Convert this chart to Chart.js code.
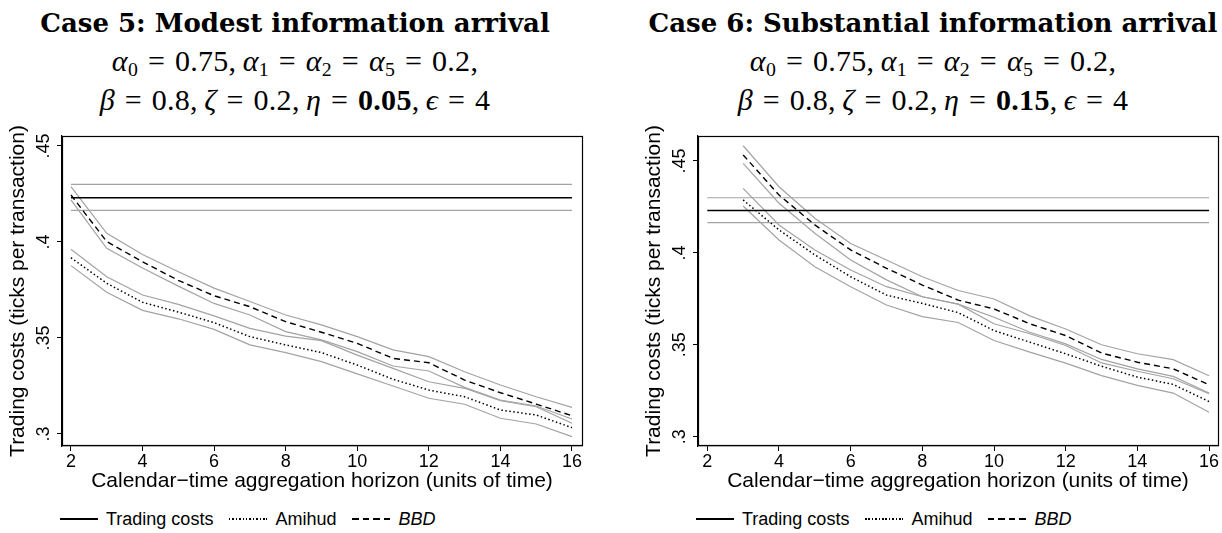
<!DOCTYPE html>
<html lang="en">
<head>
<meta charset="utf-8">
<title>Casos 5 y 6</title>
<script src="https://cdn.jsdelivr.net/npm/chart.js@4.4.1/dist/chart.umd.min.js"></script>
<style>
  html, body { margin: 0; padding: 0; background: #fff; }
  body { position: relative; width: 1222px; height: 533px; overflow: hidden; font-family: "Liberation Sans", Arial, sans-serif; color: #000; }
  .cabecera { position: absolute; top: 0; width: 640px; height: 130px; }
  .cabecera div { position: absolute; left: 0; width: 100%; text-align: center; white-space: nowrap; line-height: 1; }
  .titulo { top: 10px; font-family: "DejaVu Serif", serif; font-weight: bold; font-size: 26px; }
  .formula { font-family: "Liberation Serif", serif; font-size: 30px; word-spacing: 2px; letter-spacing: 0.3px; }
  .f1 { top: 46px; }
  .f2 { top: 85px; }
  .formula sub { font-size: 0.66em; vertical-align: -0.25em; line-height: 0; }
  canvas { position: absolute; }
  .leyenda { position: absolute; top: 508px; display: flex; align-items: center; font-size: 18px; line-height: 22px; white-space: nowrap; }
  .leyenda span.m { display: inline-block; width: 38px; height: 1.5px; margin-right: 8px; }
  .leyenda span.t { margin-right: 16px; }
  .solida { background: #000; }
  .punteada { background: repeating-linear-gradient(90deg, #000 0 1.5px, transparent 1.5px 3.4px); }
  .discontinua { background: repeating-linear-gradient(90deg, #000 0 6.5px, transparent 6.5px 10.5px); }
</style>
</head>
<body>

<div class="cabecera" style="left:-25px">
  <div class="titulo">Case 5: Modest information arrival</div>
  <div class="formula f1"><i>α</i><sub>0</sub> = 0.75,&thinsp;<i>α</i><sub>1</sub> = <i>α</i><sub>2</sub> = <i>α</i><sub>5</sub> = 0.2,</div>
  <div class="formula f2"><i>β</i> = 0.8,&thinsp;<i>ζ</i> = 0.2,&thinsp;<i>η</i> = <b>0.05</b>,&thinsp;<i>ϵ</i> = 4</div>
</div>
<div class="cabecera" style="left:613px">
  <div class="titulo">Case 6: Substantial information arrival</div>
  <div class="formula f1"><i>α</i><sub>0</sub> = 0.75,&thinsp;<i>α</i><sub>1</sub> = <i>α</i><sub>2</sub> = <i>α</i><sub>5</sub> = 0.2,</div>
  <div class="formula f2"><i>β</i> = 0.8,&thinsp;<i>ζ</i> = 0.2,&thinsp;<i>η</i> = <b>0.15</b>,&thinsp;<i>ϵ</i> = 4</div>
</div>

<canvas id="caso5" width="600" height="400" style="left:0;top:100px"></canvas>
<canvas id="caso6" width="586" height="400" style="left:636px;top:100px"></canvas>

<div class="leyenda" style="left:60px">
  <span class="m solida"></span><span class="t">Trading costs</span>
  <span class="m punteada"></span><span class="t">Amihud</span>
  <span class="m discontinua"></span><span class="t" style="font-style:italic">BBD</span>
</div>
<div class="leyenda" style="left:696px">
  <span class="m solida"></span><span class="t">Trading costs</span>
  <span class="m punteada"></span><span class="t">Amihud</span>
  <span class="m discontinua"></span><span class="t" style="font-style:italic">BBD</span>
</div>

<script>
// horizonte de agregacion (unidades de tiempo)
const horizonte = [2, 3, 4, 5, 6, 7, 8, 9, 10, 11, 12, 13, 14, 15, 16];

// costes de negociacion verdaderos (constantes) y su banda
const costeMedio = 0.4231;
const costeSup = 0.4300;
const costeInf = 0.4165;

// Caso 5: llegada modesta de informacion
const bbd5    = [0.4245, 0.4002, 0.3897, 0.3800, 0.3720, 0.3663, 0.3585, 0.3530, 0.3472, 0.3394, 0.3371, 0.3281, 0.3215, 0.3156, 0.3095];
const bbd5Sup = [0.4288, 0.4045, 0.3935, 0.3845, 0.3760, 0.3690, 0.3620, 0.3568, 0.3507, 0.3438, 0.3403, 0.3324, 0.3255, 0.3194, 0.3139];
const bbd5Inf = [0.4219, 0.3967, 0.3865, 0.3770, 0.3680, 0.3620, 0.3533, 0.3490, 0.3429, 0.3354, 0.3328, 0.3243, 0.3177, 0.3146, 0.3078];
const amihud5    = [0.3918, 0.3785, 0.3686, 0.3635, 0.3580, 0.3507, 0.3464, 0.3424, 0.3359, 0.3285, 0.3229, 0.3194, 0.3125, 0.3099, 0.3033];
const amihud5Sup = [0.3962, 0.3819, 0.3724, 0.3675, 0.3615, 0.3550, 0.3510, 0.3486, 0.3411, 0.3342, 0.3272, 0.3238, 0.3173, 0.3142, 0.3056];
const amihud5Inf = [0.3877, 0.3738, 0.3644, 0.3600, 0.3545, 0.3464, 0.3424, 0.3377, 0.3313, 0.3250, 0.3186, 0.3155, 0.3082, 0.3052, 0.2986];

// Caso 6: llegada sustancial de informacion (sin dato en h = 2)
const bbd6    = [null, 0.4533, 0.4315, 0.4152, 0.4016, 0.3916, 0.3825, 0.3743, 0.3695, 0.3614, 0.3550, 0.3455, 0.3405, 0.3369, 0.3282];
const bbd6Sup = [null, 0.4583, 0.4360, 0.4188, 0.4051, 0.3961, 0.3870, 0.3795, 0.3749, 0.3657, 0.3586, 0.3500, 0.3451, 0.3419, 0.3331];
const bbd6Inf = [null, 0.4487, 0.4270, 0.4107, 0.3961, 0.3853, 0.3761, 0.3721, 0.3650, 0.3568, 0.3505, 0.3420, 0.3369, 0.3328, 0.3237];
const amihud6    = [null, 0.4288, 0.4125, 0.3989, 0.3870, 0.3770, 0.3725, 0.3675, 0.3577, 0.3514, 0.3451, 0.3383, 0.3324, 0.3284, 0.3191];
const amihud6Sup = [null, 0.4351, 0.4152, 0.4016, 0.3907, 0.3816, 0.3761, 0.3721, 0.3614, 0.3560, 0.3496, 0.3401, 0.3356, 0.3315, 0.3233];
const amihud6Inf = [null, 0.4255, 0.4070, 0.3925, 0.3816, 0.3716, 0.3653, 0.3621, 0.3523, 0.3460, 0.3400, 0.3332, 0.3279, 0.3237, 0.3133];

// marcas de los ejes
const ticksX = [2, 4, 6, 8, 10, 12, 14, 16];
const ticksY = [0.3, 0.35, 0.4, 0.45];
const etiquetasY = ['.3', '.35', '.4', '.45'];

const GRIS = '#a3a3a3';
const fuente = 'Liberation Sans';

function serie(valores, color, ancho, guiones) {
    return {
        data: horizonte.map((h, i) => ({ x: h, y: valores[i] })),
        borderColor: color, borderWidth: ancho, borderDash: guiones || [],
        pointRadius: 0, tension: 0, fill: false
    };
}

function horizontal(valor, color, ancho) {
    return {
        data: [{ x: horizonte[0], y: valor }, { x: horizonte[horizonte.length - 1], y: valor }],
        borderColor: color, borderWidth: ancho, pointRadius: 0, fill: false
    };
}

// marco completo alrededor del area del grafico (estilo Stata)
const marco = {
    id: 'marco',
    afterDraw(chart) {
        const { ctx, chartArea: a } = chart;
        ctx.save();
        ctx.strokeStyle = '#000';
        ctx.lineWidth = 1.2;
        ctx.strokeRect(Math.round(a.left) + 0.5, Math.round(a.top) + 0.5, Math.round(a.right - a.left), Math.round(a.bottom - a.top) - 1);
        ctx.restore();
    }
};

function crearGrafico(id, series, rangoX, rangoY) {
    const datasets = [
        horizontal(costeMedio, '#000', 1.5),
        serie(series.bbd, '#000', 1.4, [6, 4]),
        serie(series.amihud, '#000', 1.5, [1.5, 2.5]),
        horizontal(costeSup, GRIS, 1.2),
        horizontal(costeInf, GRIS, 1.2),
        serie(series.bbdSup, GRIS, 1.2),
        serie(series.bbdInf, GRIS, 1.2),
        serie(series.amihudSup, GRIS, 1.2),
        serie(series.amihudInf, GRIS, 1.2)
    ];
    return new Chart(document.getElementById(id), {
        type: 'line',
        data: { datasets },
        options: {
            responsive: false,
            animation: false,
            events: [],
            layout: { padding: { top: 36, right: rangoX.derecha, bottom: 0, left: 0 } },
            plugins: { legend: { display: false }, tooltip: { enabled: false } },
            scales: {
                x: {
                    type: 'linear', min: rangoX.min, max: rangoX.max,
                    afterBuildTicks: s => { s.ticks = ticksX.map(v => ({ value: v })); },
                    afterFit: s => { s.height = 54; },
                    ticks: { autoSkip: false, maxRotation: 0, padding: 0, color: '#000', font: { family: fuente, size: 18 } },
                    grid: { drawOnChartArea: false, drawTicks: true, tickLength: 5, tickColor: '#000' },
                    border: { display: true, color: '#000', width: 1.2 },
                    title: { display: true, text: 'Calendar−time aggregation horizon (units of time)', color: '#000',
                             font: { family: fuente, size: 21 }, padding: { top: 0, bottom: 6 } }
                },
                y: {
                    type: 'linear', min: rangoY.min, max: rangoY.max,
                    afterBuildTicks: s => { s.ticks = ticksY.map(v => ({ value: v })); },
                    afterFit: s => { s.width = 62; },
                    ticks: { callback: (v, i) => etiquetasY[i], minRotation: 90, maxRotation: 90, crossAlign: 'center',
                             padding: 0, color: '#000', font: { family: fuente, size: 18 } },
                    grid: { drawOnChartArea: false, drawTicks: true, tickLength: 5, tickColor: '#000' },
                    border: { display: true, color: '#000', width: 1.2 },
                    title: { display: true, text: 'Trading costs (ticks per transaction)', color: '#000',
                             font: { family: fuente, size: 21 }, padding: { top: 6, bottom: 0 } }
                }
            }
        },
        plugins: [marco]
    });
}

crearGrafico('caso5',
    { bbd: bbd5, bbdSup: bbd5Sup, bbdInf: bbd5Inf, amihud: amihud5, amihudSup: amihud5Sup, amihudInf: amihud5Inf },
    { min: 1.75, max: 16.28, derecha: 18 },
    { min: 0.29375, max: 0.4552 });

crearGrafico('caso6',
    { bbd: bbd6, bbdSup: bbd6Sup, bbdInf: bbd6Inf, amihud: amihud6, amihudSup: amihud6Sup, amihudInf: amihud6Inf },
    { min: 1.74, max: 16.25, derecha: 4 },
    { min: 0.2949, max: 0.4636 });
</script>
</body>
</html>
